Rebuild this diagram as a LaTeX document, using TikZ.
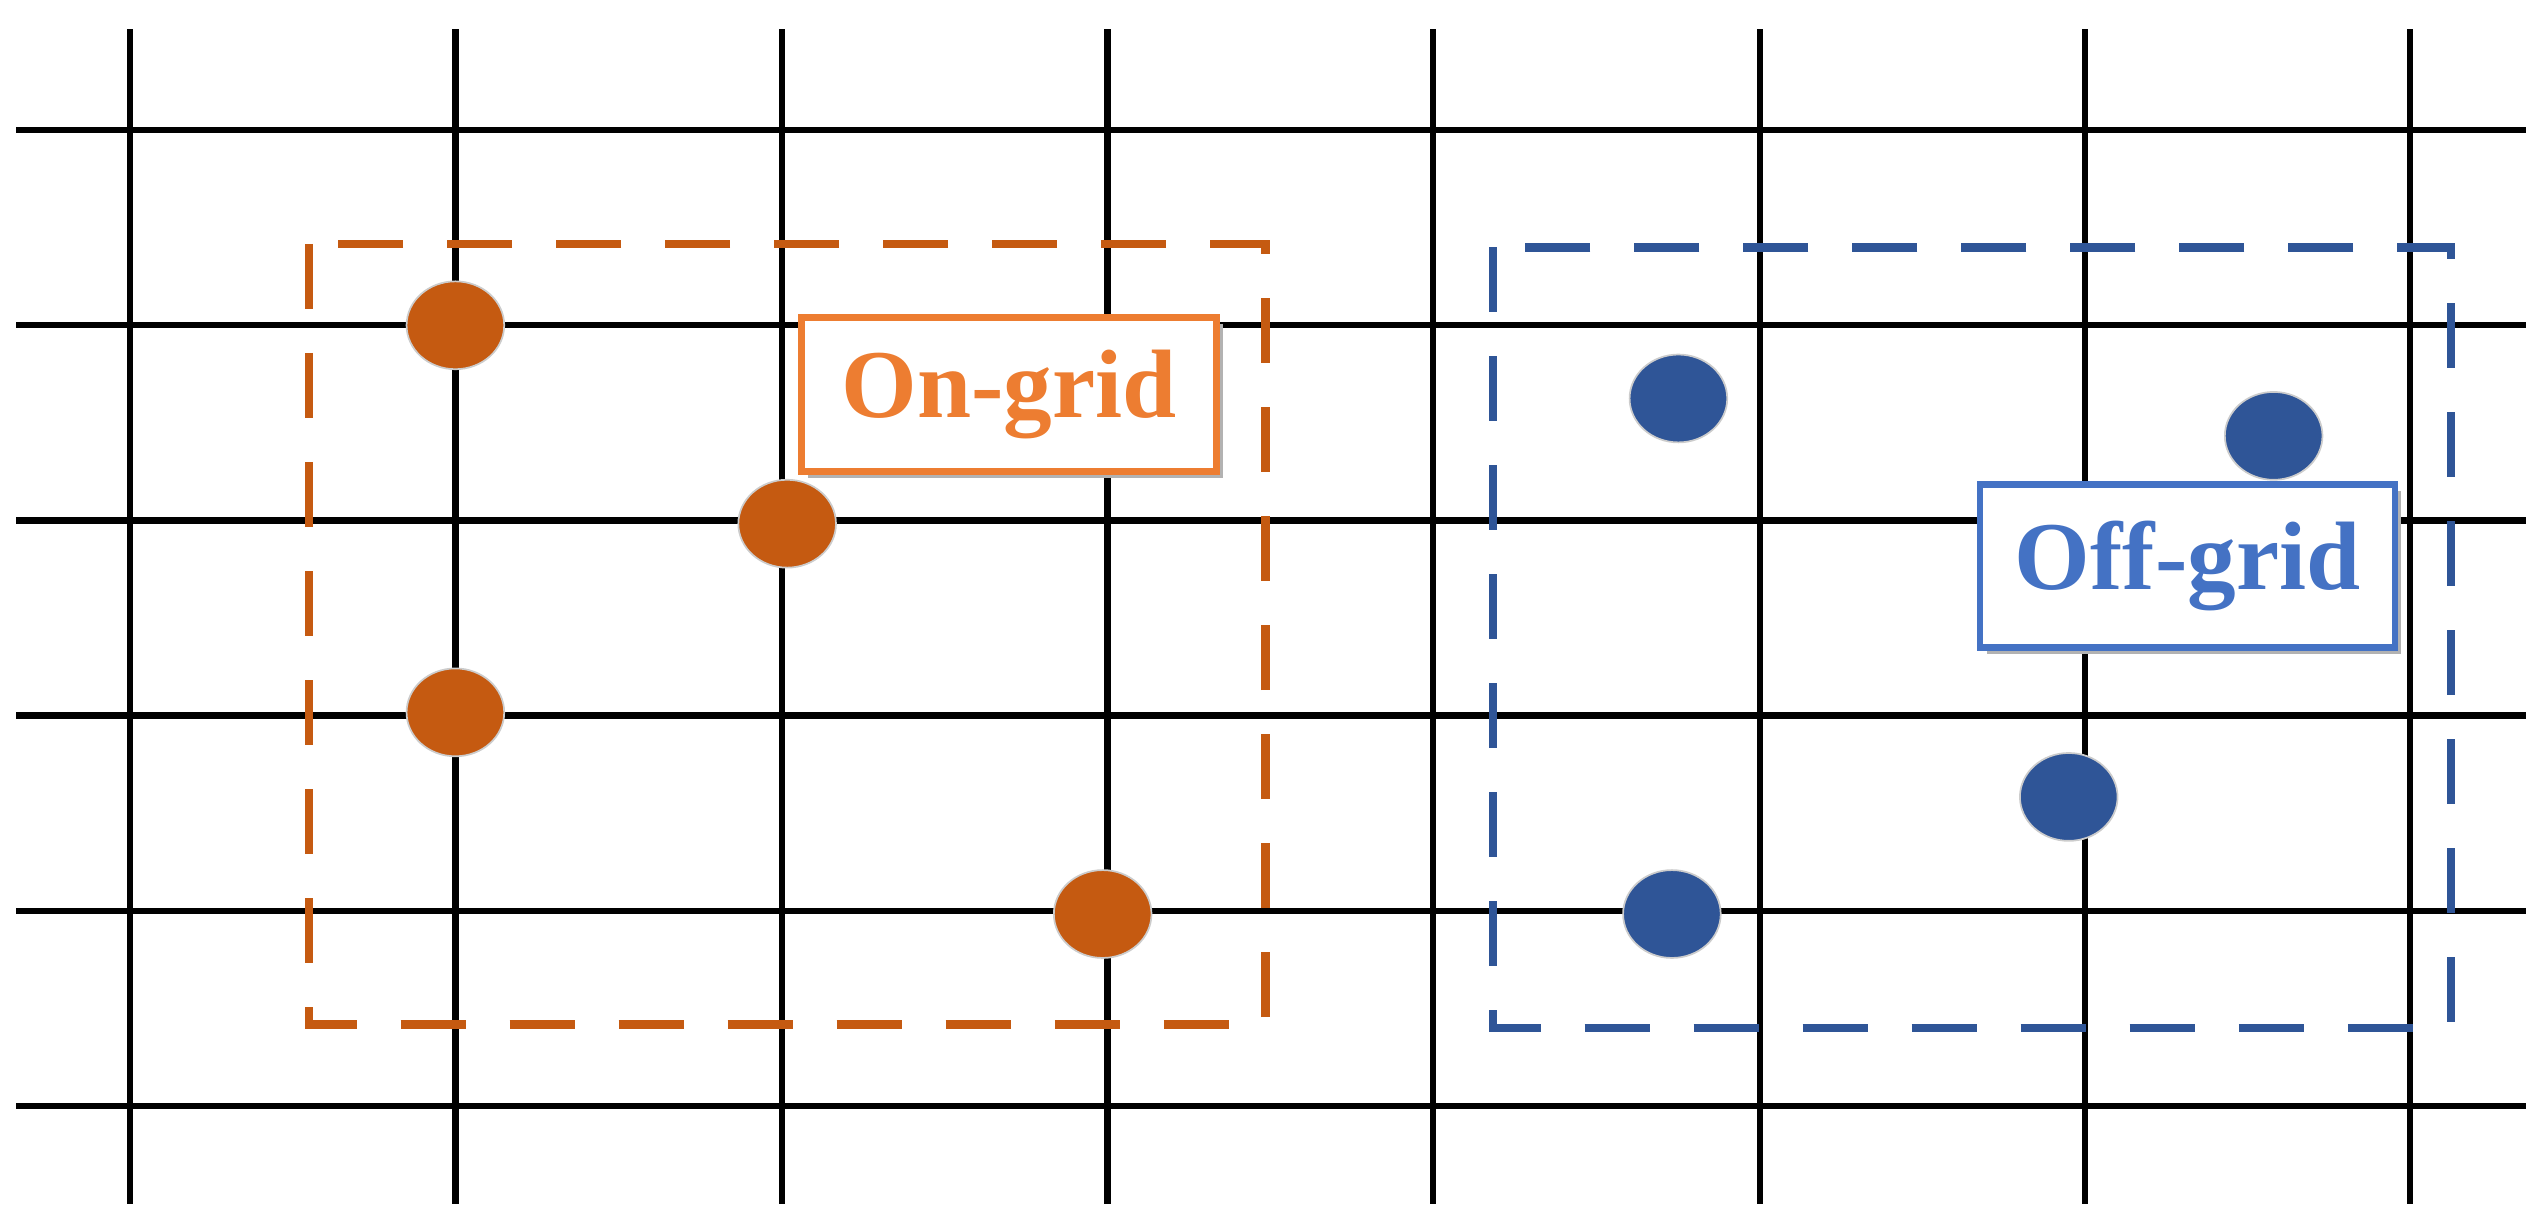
\documentclass[tikz,border=0pt]{standalone}
\usepackage{fontspec}
\setmainfont{Liberation Serif}
\usetikzlibrary{shapes.geometric}
\definecolor{odot}{HTML}{C55A11}
\definecolor{otxt}{HTML}{ED7D31}
\definecolor{bdot}{HTML}{2F5597}
\definecolor{btxt}{HTML}{4472C4}
\begin{document}
\begin{tikzpicture}[x=0.01cm,y=-0.01cm,
  gridline/.style={line width=1.1pt,black},
  dbox/.style={line width=1.5pt,dash pattern=on 0.4cm off 0.27cm},
  dotshape/.style={ellipse,minimum width=0.6cm,minimum height=0.54cm,inner sep=0pt,draw=gray!40,line width=0.3pt},
  lab/.style={draw,line width=1.2pt,fill=white,minimum width=2.55cm,minimum height=0.95cm,inner xsep=2pt,font=\bfseries\fontsize{17}{20}\selectfont}]
\useasboundingbox (0,0) rectangle (1563,754);
\foreach \y in {80,200,320,440,560,680} \draw[gridline] (10,\y) -- (1553,\y);
\foreach \x in {80,280,481,681,881,1082,1282,1482} \draw[gridline] (\x,18) -- (\x,740);
\draw[dbox,odot] (190,150) rectangle (778,630);
\draw[dbox,bdot] (918,152) rectangle (1507,632);
\foreach \n/\p in {o1/{(280,200)},o2/{(484,322)},o3/{(280,438)},o4/{(678,562)}}
  \node[dotshape,fill=odot] (\n) at \p {};
\foreach \n/\p in {b1/{(1032,245)},b2/{(1398,268)},b3/{(1272,490)},b4/{(1028,562)}}
  \node[dotshape,fill=bdot] (\n) at \p {};
\fill[gray!60] (497,199) rectangle (752,294);
\node[lab,draw=otxt,text=otxt] (on) at (620.5,242.5) {On-grid};
\fill[gray!60] (1222,302) rectangle (1476,402);
\node[lab,draw=btxt,text=btxt,minimum height=1cm] (off) at (1345,348) {Off-grid};
\end{tikzpicture}
\end{document}
